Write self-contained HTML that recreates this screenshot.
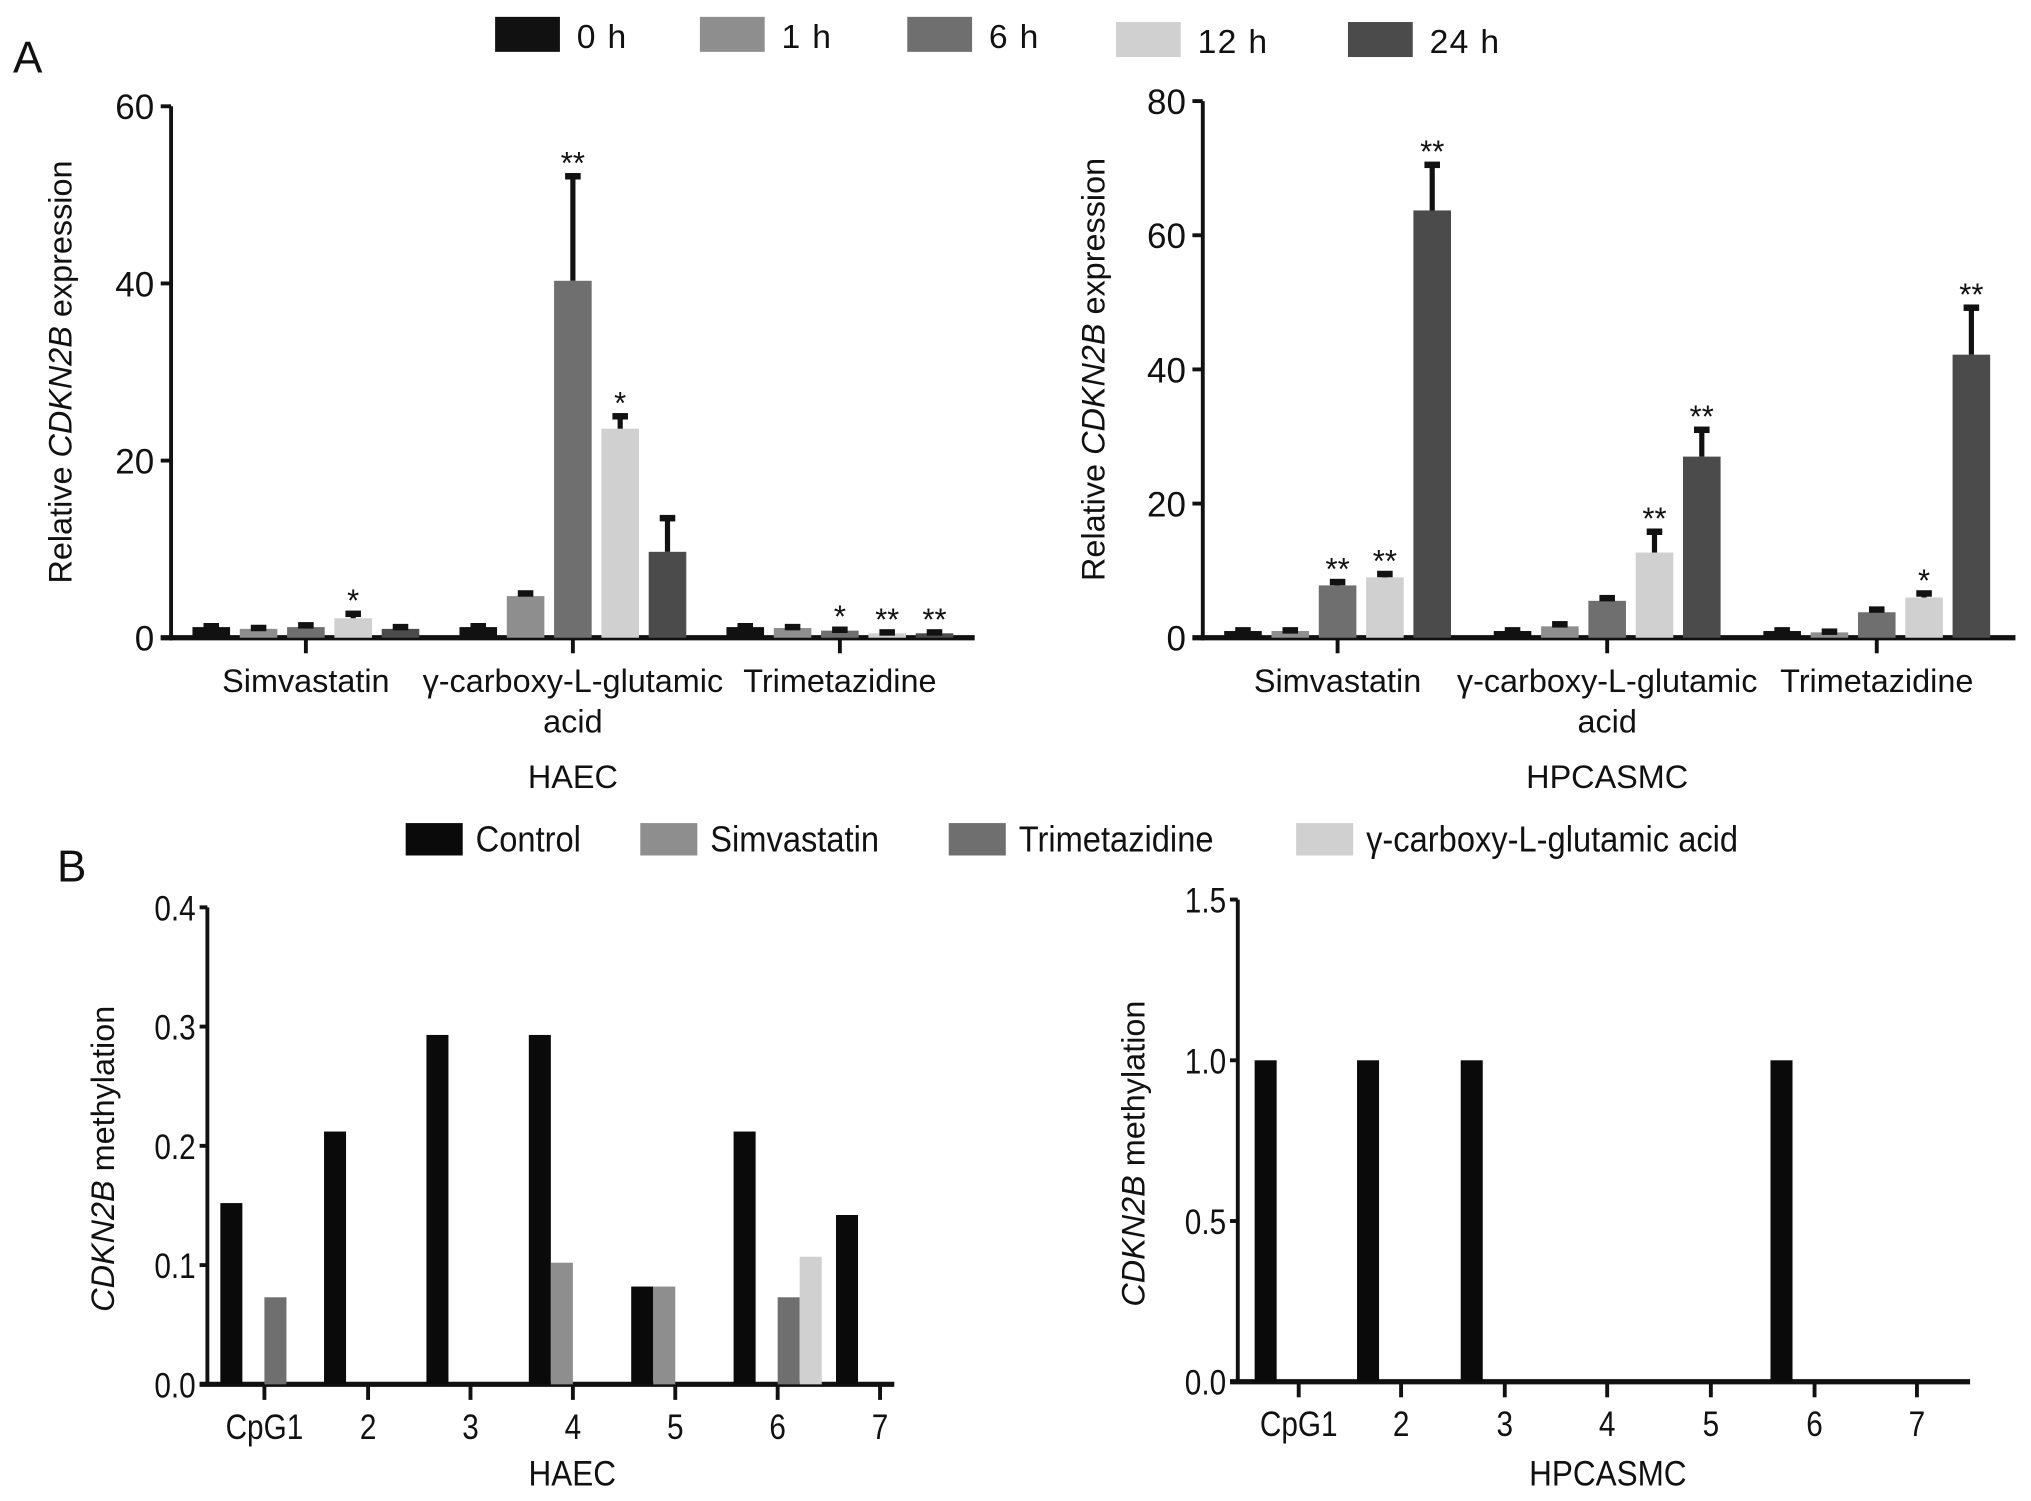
<!DOCTYPE html>
<html><head><meta charset="utf-8"><style>
html,body{margin:0;padding:0;background:#fff}
svg{display:block}
text{font-family:"Liberation Sans",sans-serif;fill:#111}
</style></head><body>
<svg id="fig" width="2031" height="1501" viewBox="0 0 1567 1158" preserveAspectRatio="none" xmlns="http://www.w3.org/2000/svg">
<g id="root"></g>
</svg>
<script>
// Panel A data
const groupsA = ["Simvastatin", "γ-carboxy-L-glutamic", "Trimetazidine"];
const seriesA = ["0 h", "1 h", "6 h", "12 h", "24 h"];
const colorsA = ["#111111", "#8e8e8e", "#6f6f6f", "#d0d0d0", "#4b4b4b"];
const haecVals = [[1.2,1.0,1.2,2.2,1.0],[1.2,4.7,40.3,23.6,9.7],[1.2,1.1,0.8,0.5,0.5]];
const haecErr  = [[0.1,0.1,0.2,0.5,0.2],[0.1,0.3,11.8,1.4,3.8],[0.1,0.1,0.1,0.1,0.1]];
const haecStars = [["","","","*",""],["","","**","*",""],["","","*","**","**"]];
const haecTicks = [0,20,40,60];
const hpcVals = [[1.0,1.0,7.8,9.0,63.7],[1.0,1.7,5.5,12.7,27.0],[1.0,0.8,3.8,6.0,42.2]];
const hpcErr  = [[0.1,0.1,0.5,0.5,6.8],[0.1,0.3,0.4,3.1,4.0],[0.1,0.1,0.4,0.6,7.0]];
const hpcStars = [["","","**","**","**"],["","","","**","**"],["","","","*","**"]];
const hpcTicks = [0,20,40,60,80];
// Panel B data
const cpgLabels = ["CpG1","2","3","4","5","6","7"];
const seriesB = ["Control","Simvastatin","Trimetazidine","γ-carboxy-L-glutamic acid"];
const colorsB = ["#0a0a0a","#8e8e8e","#6f6f6f","#d0d0d0"];
const haecMethControl = [0.152,0.212,0.293,0.293,0.082,0.212,0.142];
const haecMethSimv    = [0,0,0,0.102,0.082,0,0];
const haecMethTrim    = [0.073,0,0,0,0,0.073,0];
const haecMethGamma   = [0,0,0,0,0,0.107,0];
const haecMethTicks = ["0.0","0.1","0.2","0.3","0.4"];
const hpcMethControl = [1,1,1,0,0,1,0];
const hpcMethSimv    = [0,0,0,0,0,0,0];
const hpcMethTrim    = [0,0,0,0,0,0,0];
const hpcMethGamma   = [0,0,0,0,0,0,0];
const hpcMethTicks = ["0.0","0.5","1.0","1.5"];

const NS="http://www.w3.org/2000/svg";
const root=document.getElementById('root');
function el(tag,attrs,parent,txt){const e=document.createElementNS(NS,tag);for(const k in attrs)e.setAttribute(k,attrs[k]);if(txt!==undefined)e.textContent=txt;(parent||root).appendChild(e);return e;}

function panelA(name,ax,top,zero,xEnd,max,centers,vals,errs,stars,ticks,titleX,cell){
  const g=el('g',{});
  
  
  const y=v=>zero-(v/max)*(zero-top);
  const ya=el('line',{x1:ax,y1:top,x2:ax,y2:zero+2,stroke:'#111','stroke-width':3},g);
  
  const xa=el('line',{x1:ax-8,y1:zero,x2:xEnd,y2:zero,stroke:'#111','stroke-width':4},g);
  
  ticks.forEach(t=>{
    el('line',{x1:ax-8,y1:y(t),x2:ax,y2:y(t),stroke:'#111','stroke-width':3},g);
    const tl=el('text',{x:ax-13,y:y(t)+10,'text-anchor':'end','font-size':27},g,String(t));
    
  });
  const bw=29,step=36.5;
  centers.forEach((c,gi)=>{
    el('line',{x1:c,y1:zero,x2:c,y2:zero+12,stroke:'#111','stroke-width':3},g);
    vals[gi].forEach((v,si)=>{
      const bx=c+(si-2)*step-bw/2;
      const r=el('rect',{x:bx,y:y(v),width:bw,height:zero-y(v),fill:colorsA[si]},g);
      
      
      const top2=y(v+errs[gi][si]);
      el('line',{x1:bx+bw/2,y1:y(v),x2:bx+bw/2,y2:top2,stroke:'#111','stroke-width':4},g);
      el('line',{x1:bx+bw/2-6,y1:top2,x2:bx+bw/2+6,y2:top2,stroke:'#111','stroke-width':5},g);
      if(stars[gi][si]){
        const st=el('text',{x:bx+bw/2,y:top2-2,'text-anchor':'middle','font-size':24,fill:'#666'},g,stars[gi][si]);
        
      }
    });
    const lab=el('text',{x:c,y:zero+42,'text-anchor':'middle','font-size':25},g,groupsA[gi]);
    
    if(gi===1){const a=el('text',{x:c,y:zero+73,'text-anchor':'middle','font-size':25},g,'acid');}
  });
  const yt=el('text',{transform:`translate(${titleX},${(top+zero)/2}) rotate(-90)`,'text-anchor':'middle','font-size':25},g);
  
  el('tspan',{},yt,'Relative ');el('tspan',{'font-style':'italic'},yt,'CDKN2B');el('tspan',{},yt,' expression');
  const ct=el('text',{x:centers[1],y:608,'text-anchor':'middle','font-size':25},g,cell);
  
}

function panelB(name,ax,top,zero,xEnd,max,centers,ser,ticks,titleX,cell){
  const g=el('g',{});
  
  
  const y=v=>zero-(v/max)*(zero-top);
  el('line',{x1:ax,y1:top,x2:ax,y2:zero,stroke:'#111','stroke-width':3},g);
  el('line',{x1:ax-6,y1:zero,x2:xEnd,y2:zero,stroke:'#111','stroke-width':4},g);
  ticks.forEach(t=>{
    const v=parseFloat(t);
    el('line',{x1:ax-6,y1:y(v),x2:ax,y2:y(v),stroke:'#111','stroke-width':3},g);
    const tx=ax-9;
    const tl=el('text',{x:0,y:0,'text-anchor':'end','font-size':27,transform:`translate(${tx},${y(v)+10}) scale(0.85,1)`},g,t);
    
  });
  const bw=17;
  centers.forEach((c,ci)=>{
    el('line',{x1:c,y1:zero,x2:c,y2:zero+12,stroke:'#111','stroke-width':3},g);
    ser.forEach((arr,si)=>{
      const v=arr[ci]; if(!v) return;
      const r=el('rect',{x:c-34+si*17,y:y(v),width:bw,height:zero-y(v),fill:colorsB[si]},g);
      
      
    });
    const l=el('text',{x:0,y:0,'text-anchor':'middle','font-size':27,transform:`translate(${c},${zero+42}) scale(0.85,1)`},g,cpgLabels[ci]);
    
  });
  const yt=el('text',{transform:`translate(${titleX},${(top+zero)/2+10}) rotate(-90)`,'text-anchor':'middle','font-size':25},g);
  
  el('tspan',{'font-style':'italic'},yt,'CDKN2B');el('tspan',{},yt,' methylation');
  const mid=(centers[0]+centers[6])/2;
  const ct=el('text',{x:0,y:0,'text-anchor':'middle','font-size':27,transform:`translate(${mid},1146) scale(0.9,1)`},g,cell);
  
}

// panel letters
const la=el('text',{x:10,y:56,'font-size':34},root,'A');
const lb=el('text',{x:44,y:680,'font-size':34},root,'B');

// legend A
const legAx=[382,540,700,861,1040];
seriesA.forEach((s,i)=>{
  const yy=i===3||i===4?17:13;
  const r=el('rect',{x:legAx[i],y:yy,width:50,height:27,fill:colorsA[i]});
  
  const t=el('text',{x:legAx[i]+63,y:yy+24,'font-size':26,'letter-spacing':'1'},root,s);
  
});
// legend B
const legBx=[313,494,732,1000];
seriesB.forEach((s,i)=>{
  const r=el('rect',{x:legBx[i],y:635,width:44,height:25,fill:colorsB[i]});
  
  const tx=legBx[i]+54;
  const t=el('text',{x:0,y:0,'font-size':28,transform:`translate(${tx},657) scale(0.9,1)`},root,s);
  
});

panelA('haec-expression-chart',132,82,492,752,60,[236,442,648],haecVals,haecErr,haecStars,haecTicks,55,'HAEC');
panelA('hpcasmc-expression-chart',928,78,492,1555,80,[1032,1240,1448],hpcVals,hpcErr,hpcStars,hpcTicks,852,'HPCASMC');
panelB('haec-methylation-chart',160,700,1068,690,0.4,[204,284,363,442,521,600,679],[haecMethControl,haecMethSimv,haecMethTrim,haecMethGamma],haecMethTicks,88,'HAEC');
panelB('hpcasmc-methylation-chart',955,694,1066,1520,1.5,[1002,1081,1161,1240,1320,1400,1479],[hpcMethControl,hpcMethSimv,hpcMethTrim,hpcMethGamma],hpcMethTicks,883,'HPCASMC');
</script>
</body></html>
